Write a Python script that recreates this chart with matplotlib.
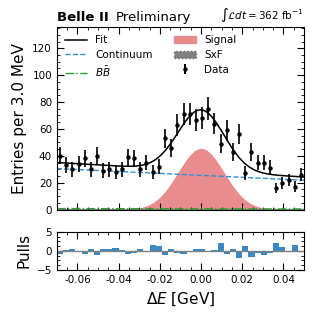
import numpy as np
import matplotlib
matplotlib.use("Agg")
import matplotlib.pyplot as plt
from matplotlib.ticker import AutoMinorLocator, MultipleLocator
from matplotlib.patches import Patch
from matplotlib.lines import Line2D

# binning: 3 MeV bins over Delta E
bin_lo, bin_hi, bin_w = -0.07, 0.05, 0.003
counts = [40, 33, 30, 34, 38, 30, 40, 29, 30, 28,
          30, 39, 38, 30, 35, 28, 32, 53, 46, 63,
          71, 71, 67, 68, 75, 64, 49, 59, 43, 56,
          27, 43, 35, 35, 31, 16, 20, 22, 17, 26]
pulls = [-0.9, 0.3, 0.5, 0.1, -0.7, 0.5, -1.1, 0.5, 0.5, 0.7,
         0.2, -0.9, -0.6, 0.4, -0.1, 1.5, 1.2, -1.1, 0.5, -0.6,
         -0.9, 0.0, 0.6, 0.5, -0.3, 0.3, 2.0, -0.7, 0.6, -1.8,
         1.4, -1.6, -0.6, -1.1, -0.6, 2.2, 1.0, 0.0, 1.5, -0.4]

# fit components (values read at the range edges, gaussian signal)
cont_edges = [30.5, 21.8]
bb_edges = [0.7, 0.4]
fit_bkg_edges = [35.0, 24.2]
sig_peak, sig_mean, sig_sigma = 45.5, 0.0, 0.0112

edges = np.arange(bin_lo, bin_hi + bin_w / 2, bin_w)
centers = 0.5 * (edges[:-1] + edges[1:])
counts = np.array(counts)
xs = np.linspace(bin_lo, bin_hi, 400)


def line(v):
    return v[0] + (v[1] - v[0]) * (xs - bin_lo) / (bin_hi - bin_lo)


signal = sig_peak * np.exp(-0.5 * ((xs - sig_mean) / sig_sigma) ** 2)
cont = line(cont_edges)
bb = line(bb_edges)
fit = line(fit_bkg_edges) + signal

fig = plt.figure(figsize=(3.16, 3.16), dpi=100)
ax = fig.add_axes([0.180, 0.337, 0.782, 0.578])
axp = fig.add_axes([0.180, 0.146, 0.782, 0.120])

ax.fill_between(xs, 0, signal, color="#e98c8e", lw=0)
ax.fill_between(xs, 0, 0.3 * np.ones_like(xs), color="grey", lw=0)
ax.plot(xs, bb, color="#2ca02c", ls="-.", lw=1)
ax.plot(xs, cont, color="#2f8fd8", ls="--", lw=1)
ax.plot(xs, fit, color="black", lw=1.1)
ax.errorbar(centers, counts, yerr=np.sqrt(counts), fmt="o", color="black",
            ms=2.2, elinewidth=1.2, capsize=0)

ax.set_xlim(bin_lo, bin_hi)
ax.set_ylim(0, 136)
ax.set_ylabel("Entries per 3.0 MeV", fontsize=11)
ax.yaxis.set_major_locator(MultipleLocator(20))
ax.xaxis.set_major_locator(MultipleLocator(0.02))
ax.tick_params(labelbottom=False)

# legend: lines in the first column, fills and data in the second
eb = ax.errorbar([], [], yerr=[], fmt="o", color="black", ms=2.2, capsize=0)
handles = [Line2D([], [], color="black", lw=1.1),
           Line2D([], [], color="#2f8fd8", ls="--", lw=1),
           Line2D([], [], color="#2ca02c", ls="-.", lw=1),
           Patch(color="#e98c8e"),
           Patch(facecolor="grey", edgecolor="#666666", ls=":"),
           eb]
labels = ["Fit", "Continuum", r"$B\bar{B}$", "Signal", "SxF", "Data"]
ax.legend(handles, labels, ncol=2, loc="upper left", frameon=False,
          fontsize=7.5, columnspacing=2.0, handlelength=2.1,
          borderaxespad=0.4, labelspacing=0.45)

axp.bar(centers, pulls, width=bin_w, color="#3a89c4", lw=0)
axp.axhline(0, color="grey", lw=1)
axp.set_xlim(bin_lo, bin_hi)
axp.set_ylim(-5, 5)
axp.set_yticks([-5, 0, 5])
axp.set_ylabel("Pulls", fontsize=11)
axp.set_xlabel(r"$\Delta E$ [GeV]", fontsize=11)
axp.xaxis.set_major_locator(MultipleLocator(0.02))
axp.xaxis.set_major_formatter(plt.FormatStrFormatter("%.2f"))

for a in (ax, axp):
    a.xaxis.set_minor_locator(AutoMinorLocator(4))
    a.yaxis.set_minor_locator(AutoMinorLocator(4))
    a.tick_params(which="both", direction="in", top=True, right=True,
                  labelsize=7.5)
    a.tick_params(which="major", length=5)
    a.tick_params(which="minor", length=2.5)

fig.align_ylabels([ax, axp])

ax.text(0.0, 1.015, "Belle II", fontweight="bold", transform=ax.transAxes,
        fontsize=9.5, va="bottom", ha="left")
ax.text(0.24, 1.015, "Preliminary", transform=ax.transAxes,
        fontsize=9.5, va="bottom", ha="left")
ax.text(1.0, 1.015, r"$\int\mathcal{L}dt = 362$ fb$^{-1}$",
        transform=ax.transAxes, fontsize=7.5, va="bottom", ha="right")

fig.savefig("out.png", dpi=100)
